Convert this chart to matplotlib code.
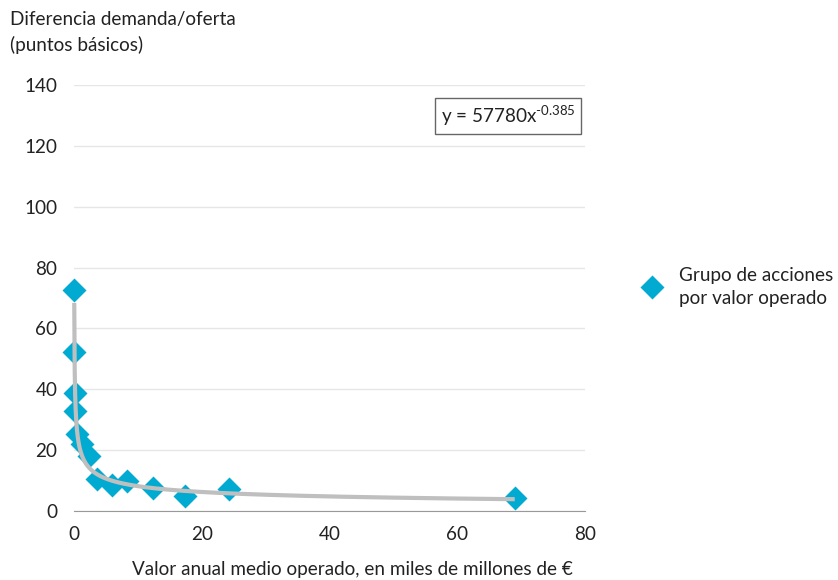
import numpy as np
import matplotlib.pyplot as plt

plt.rcParams['font.family'] = ['Lato', 'DejaVu Sans']
plt.rcParams['mathtext.fontset'] = 'custom'
plt.rcParams['mathtext.rm'] = 'Lato'

# average annual traded value (bn EUR) and bid/ask spread (bp)
valor = [0.035, 0.07, 0.13, 0.18, 0.45, 1.2, 2.35, 3.55, 5.9, 8.25, 12.3, 17.4, 24.3, 69.0]
spread = [72.5, 52.2, 38.7, 33.0, 25.3, 22.0, 18.1, 10.4, 8.5, 9.9, 7.5, 5.0, 7.1, 4.2]

# power trend reported on the chart (x in EUR)
coef_a = 57780
coef_b = -0.385

fs = 13.6
tc = '#222222'

fig = plt.figure(figsize=(8.38, 5.8), dpi=100)
ax = fig.add_axes([74 / 838, 69 / 580, 511 / 838, 426 / 580])

xt = np.linspace(0.04, max(valor), 2000)
ax.plot(valor, spread, ls='none', marker='D', ms=12, color='#00aad0',
        mec='none', zorder=2, clip_on=False, label='Grupo de acciones\npor valor operado')
ax.plot(xt, coef_a * (xt * 1e9) ** coef_b, color='#bfbfbf', lw=3, zorder=3,
        solid_capstyle='butt', clip_on=False)

ax.set_xlim(0, 80)
ax.set_ylim(0, 140)
ax.set_xticks(range(0, 81, 20))
ax.set_yticks(range(0, 141, 20))
ax.grid(axis='y', color='#e6e6e6', lw=1)
ax.set_axisbelow(True)
for s in ['top', 'right', 'left']:
    ax.spines[s].set_visible(False)
ax.spines['bottom'].set_color('#999999')
ax.tick_params(length=0, labelsize=fs, colors=tc)
ax.tick_params(axis='x', pad=11)
ax.tick_params(axis='y', pad=12)

ax.text(0.85, 0.928, r'y = 57780x$^{\text{-0.385}}$', transform=ax.transAxes,
        ha='center', va='center', fontsize=fs, color=tc,
        bbox=dict(boxstyle='square,pad=0.3', fc='white', ec='#666666', lw=1))

fig.text(10 / 838, 1 - 11 / 580, 'Diferencia demanda/oferta\n(puntos básicos)',
         ha='left', va='top', fontsize=fs, color=tc, linespacing=1.55)
fig.text(352 / 838, 1 - 569 / 580, 'Valor anual medio operado, en miles de millones de €',
         ha='center', va='center', fontsize=fs, color=tc)

leg = fig.legend(loc='center left', bbox_to_anchor=(643 / 838, 1 - 287 / 580), frameon=False,
                 fontsize=fs, labelcolor=tc, handlelength=1.0, handletextpad=0.9,
                 borderpad=0, borderaxespad=0)
for t in leg.get_texts():
    t.set_linespacing(1.45)

fig.savefig('out.png', dpi=100)
